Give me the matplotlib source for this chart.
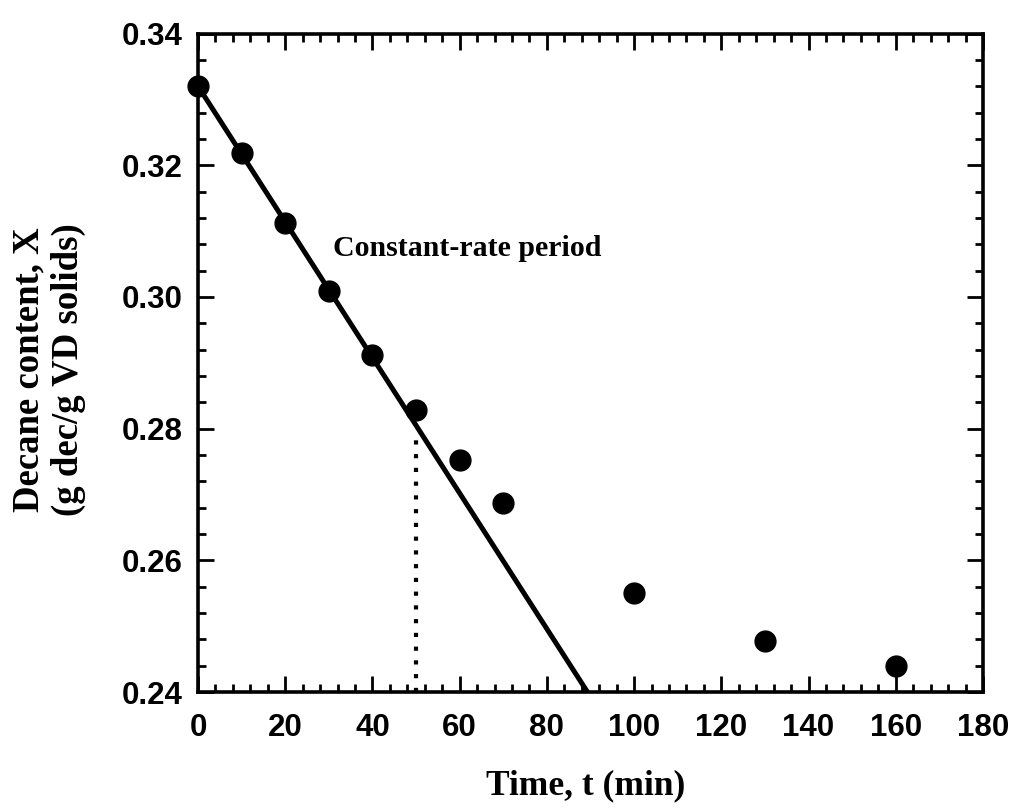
import matplotlib
matplotlib.use("Agg")
import matplotlib.pyplot as plt
from matplotlib.ticker import MultipleLocator

# Data
t_data = [0, 10, 20, 30, 40, 50, 60, 70, 100, 130, 160]
X_data = [0.332, 0.3219, 0.3112, 0.3009, 0.2912, 0.2829, 0.2753, 0.2687, 0.2550, 0.2478, 0.2440]

fit_t = [0, 89.3]
fit_X = [0.332, 0.240]

crit_t = [50, 50]
crit_X = [0.240, 0.2786]

x_ticks = [0, 20, 40, 60, 80, 100, 120, 140, 160, 180]
y_ticks = [0.24, 0.26, 0.28, 0.30, 0.32, 0.34]

fig = plt.figure(figsize=(10.09, 8.08), dpi=100)
ax = fig.add_axes([198 / 1009, (808 - 692) / 808, 785 / 1009, 658.5 / 808])

ax.plot(fit_t, fit_X, color="black", lw=3.6, solid_capstyle="butt", zorder=2)
ax.plot(crit_t, crit_X, color="black", lw=3.0, linestyle=(0, (1, 2.3)), zorder=2)
ax.plot(t_data, X_data, "o", color="black", markersize=15, clip_on=False, zorder=3)

ax.text(31, 0.3062, "Constant-rate period", family="Liberation Serif",
        fontweight="bold", fontsize=21.5, ha="left", va="baseline")

ax.set_xlim(0, 180)
ax.set_ylim(0.24, 0.34)
ax.set_xticks(x_ticks)
ax.set_yticks(y_ticks)
ax.set_xticklabels([str(v) for v in x_ticks])
ax.set_yticklabels([f"{v:.2f}" for v in y_ticks])
ax.xaxis.set_minor_locator(MultipleLocator(4))
ax.yaxis.set_minor_locator(MultipleLocator(0.004))

ax.tick_params(which="both", direction="in", top=True, right=True, width=2.0)
ax.tick_params(which="major", length=11.5)
ax.tick_params(which="minor", length=6)
ax.tick_params(axis="x", which="major", pad=15)
ax.tick_params(axis="y", which="major", pad=11)
for lab in ax.get_xticklabels() + ax.get_yticklabels():
    lab.set_family("Liberation Sans")
    lab.set_fontweight("bold")
    lab.set_fontsize(22.5)

for s in ax.spines.values():
    s.set_linewidth(2.6)

ax.set_xlabel("Time, t (min)", family="Liberation Serif", fontweight="bold", fontsize=25.5)
ax.xaxis.label.set_va("center")
ax.xaxis.set_label_coords(0.494, -0.142)

ax.set_ylabel("Decane content, X\n(g dec/g VD solids)", family="Liberation Serif",
              fontweight="bold", fontsize=26.5, linespacing=1.15)
ax.yaxis.label.set_va("center")
ax.yaxis.label.set_ha("center")
ax.yaxis.set_label_coords(-0.19, 0.489)

fig.savefig("out.png", dpi=100)
